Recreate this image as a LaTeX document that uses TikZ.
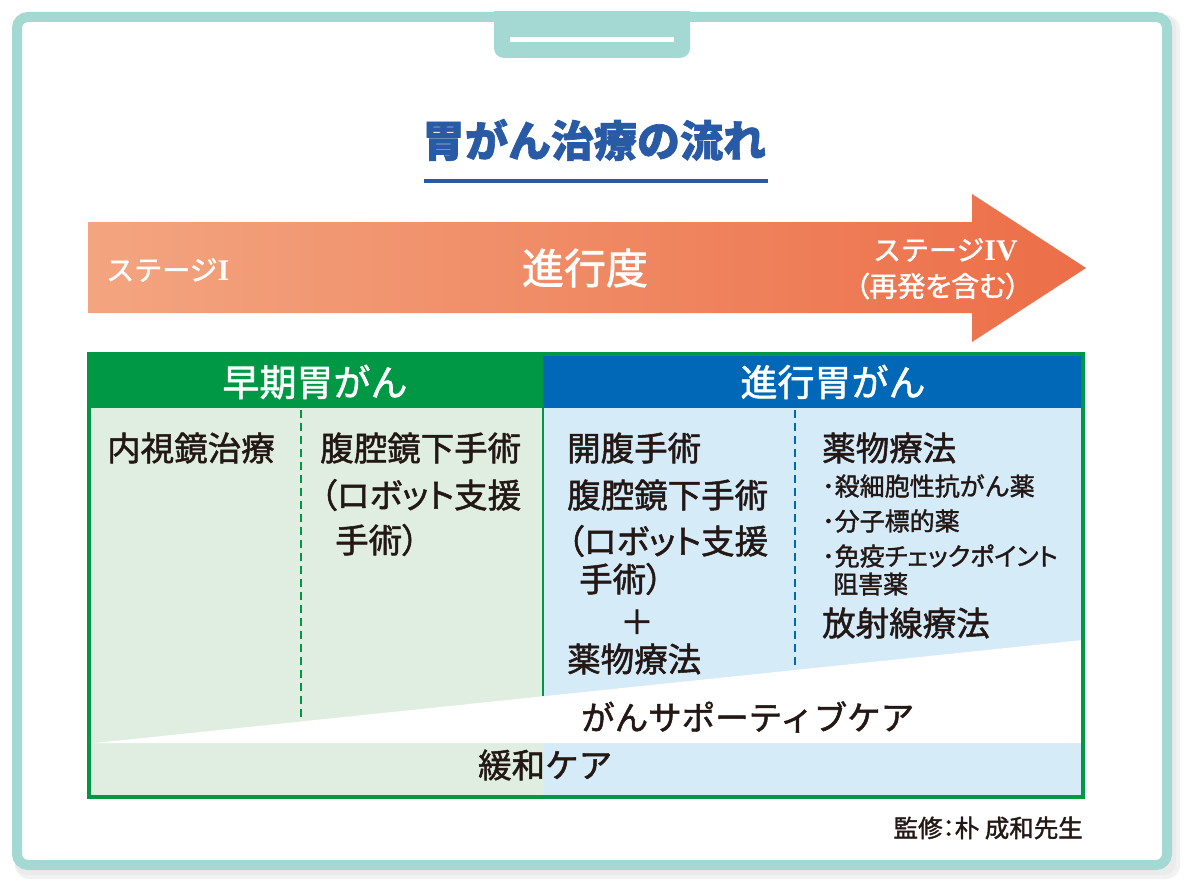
\documentclass[tikz,border=0pt]{standalone}
\usepackage{fontspec}
\setmainfont{Noto Sans CJK JP}[FakeBold=1.5]
\newfontfamily\jpp{Noto Sans CJK JP}[RawFeature=+palt,FakeBold=1.5]
\newfontfamily\romnum{Liberation Serif}
\usepackage{tikz}
\definecolor{frameteal}{RGB}{163,216,211}
\definecolor{titleblue}{RGB}{40,90,165}
\definecolor{arrowlight}{RGB}{243,165,128}
\definecolor{arrowdark}{RGB}{236,110,72}
\definecolor{earlygreen}{RGB}{0,152,68}
\definecolor{advblue}{RGB}{0,104,183}
\definecolor{earlybg}{RGB}{224,238,225}
\definecolor{advbg}{RGB}{213,235,248}
\definecolor{ink}{RGB}{35,24,21}
\newcommand{\jsize}[1]{\fontsize{#1}{#1}\selectfont}
\tikzset{
  frm/.style={draw=frameteal,line width=10pt,rounded corners=11pt,fill=white},
  hd/.style={text=white,font=\jsize{37},inner sep=0},
  arw/.style={text=white,inner sep=0},
  bd/.style={text=ink,font=\jsize{33.5},inner sep=0,anchor=west},
  sm/.style={text=ink,font=\jsize{25},inner sep=0,anchor=west},
  sepline/.style={line width=1.6pt,dash pattern=on 8pt off 5pt}
}

\begin{document}
\begin{tikzpicture}[x=1pt,y=-1pt]
\useasboundingbox (0,0) rectangle (1196,896);
% frame with shadow and tab
\fill[black!5,rounded corners=14pt] (15,15) rectangle (1180,879);
\fill[black!8,rounded corners=12pt] (15,15) rectangle (1176,875);
\draw[frm] (17,17) rectangle (1167,865);
\begin{scope}
  \clip (0,12) rectangle (1196,100);
  \fill[frameteal,rounded corners=10pt] (494,0) rectangle (690,58);
\end{scope}
\fill[white] (510,37) rectangle (674,42);

% title
\node[text=titleblue,font=\jsize{43}\bfseries,inner sep=0] (title) at (594,140) {胃がん治療の流れ};
\fill[titleblue] (424,179) rectangle (768,183);

% progress arrow
\shade[left color=arrowlight,right color=arrowdark]
  (88,222) -- (972,222) -- (972,194) -- (1086,268) -- (972,342) -- (972,313) -- (88,313) -- cycle;
\node[arw,font=\jsize{28},anchor=west] (st1) at (106,270) {ステージ{\romnum\bfseries\jsize{30}I}};
\node[arw,font=\jsize{42}] (prog) at (585,268) {進行度};
\node[arw,font=\jsize{28},anchor=east] (st4) at (1018,250) {ステージ{\romnum\bfseries\jsize{30}IV}};
\node[arw,font=\jsize{28}\jpp,anchor=east] (recur) at (1020,286) {（再発を含む）};

% table
\fill[earlybg] (89,408) rectangle (543,796);
\fill[advbg] (543,408) rectangle (1083,796);
\fill[earlygreen] (87,352) rectangle (543,408);
\fill[advblue] (543,352) rectangle (1084,408);
\fill[white] (95,743) -- (1083,640) -- (1083,743) -- cycle;
\draw[earlygreen,line width=2pt] (543,408) -- (543,696);
\draw[earlygreen,sepline] (301,410) -- (301,718);
\draw[advblue,sepline] (795,410) -- (795,668);
\draw[earlygreen,line width=3.5pt] (88.75,353.75) rectangle (1082.75,797);

\node[hd] (early) at (315,382) {早期胃がん};
\node[hd] (adv) at (833,382) {進行胃がん};

% early column texts
\node[bd] (endo) at (107,448) {内視鏡治療};
\node[bd] (lap1) at (320,448) {腹腔鏡下手術};
\node[bd,font=\jsize{33.5}\jpp] (lap2) at (320,495) {（ロボット支援};
\node[bd,font=\jsize{33.5}\jpp] (lap3) at (335,540) {手術）};

% advanced column texts
\node[bd] (open) at (567,448) {開腹手術};
\node[bd] (alap1) at (567,495) {腹腔鏡下手術};
\node[bd,font=\jsize{33.5}\jpp] (alap2) at (567,541) {（ロボット支援};
\node[bd,font=\jsize{33.5}\jpp] (alap3) at (579,579) {手術）};
\node[bd,anchor=center] (plus) at (637,622) {＋};
\node[bd] (chemo1) at (567,659) {薬物療法};

\node[bd] (chemo2) at (822,448) {薬物療法};
\node[sm] (cyto) at (822,486) {･殺細胞性抗がん薬};
\node[sm] (target) at (822,521) {･分子標的薬};
\node[sm,font=\jsize{25}\jpp] (immune) at (822,556) {･免疫チェックポイント};
\node[sm] (inhib) at (833,584) {阻害薬};
\node[bd] (radio) at (822,623) {放射線療法};

% supportive and palliative care
\node[bd] (support) at (581,717) {がんサポーティブケア};
\node[bd] (palli) at (478,765) {緩和ケア};

% supervisor
\node[text=ink,font=\jsize{24.5}\jpp,anchor=east,inner sep=0] (super) at (1083,828) {監修：朴 成和先生};
\end{tikzpicture}
\end{document}
